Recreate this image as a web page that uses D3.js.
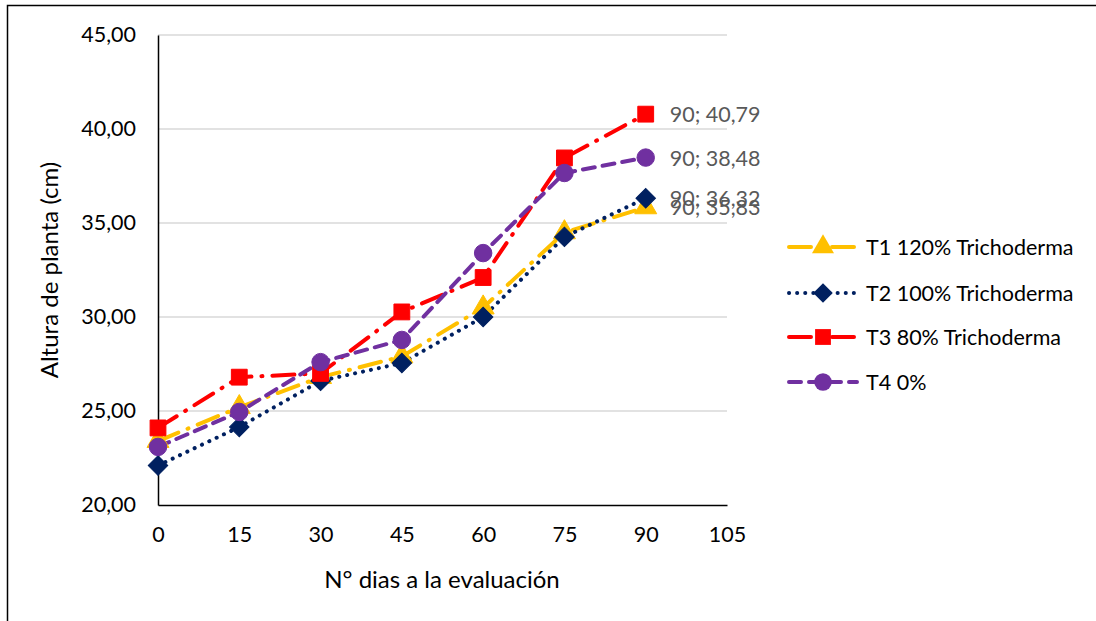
<!DOCTYPE html>
<html>
<head>
<meta charset="utf-8">
<script src="https://cdn.jsdelivr.net/npm/d3@7"></script>
<style>
  body { margin: 0; background: #fff; }
  text { font-family: Lato, "Open Sans", sans-serif; }
</style>
</head>
<body>
<div id="chart"></div>
<script>
// days of evaluation
const days = [0, 15, 30, 45, 60, 75, 90];
const xTicks = [0, 15, 30, 45, 60, 75, 90, 105];
const yTicks = [20, 25, 30, 35, 40, 45];

// plant height (cm) per treatment
const t1 = [23.40, 25.20, 26.80, 27.90, 30.50, 34.50, 35.83];
const t2 = [22.10, 24.15, 26.60, 27.55, 30.00, 34.26, 36.32];
const t3 = [24.10, 26.80, 27.00, 30.27, 32.10, 38.46, 40.79];
const t4 = [23.09, 24.95, 27.60, 28.78, 33.40, 37.66, 38.48];

const seriesNames = ['T1 120% Trichoderma', 'T2 100% Trichoderma', 'T3 80% Trichoderma', 'T4 0%'];
const seriesValues = [t1, t2, t3, t4];
const colors = ['#FFC000', '#002060', '#FF0000', '#7030A0'];
const dashes = ['22 10 1 10', '0.1 8', '22 10 1 10', '12 8'];
const symbols = [d3.symbolTriangle, d3.symbolSquare, d3.symbolSquare, d3.symbolCircle];
const symbolSizes = [210, 190, 250, 240];
const symbolRot = [0, 45, 0, 0];

const W = 1096, H = 621;
const svg = d3.select('#chart').append('svg')
  .attr('width', W).attr('height', H);

// outer frame
svg.append('rect')
  .attr('x', 7.5).attr('y', 5.5).attr('width', 1200).attr('height', 630)
  .attr('fill', 'none').attr('stroke', '#000').attr('stroke-width', 1.5);

const x = d3.scaleLinear().domain([0, 105]).range([158, 727]);
const y = d3.scaleLinear().domain([20, 45]).range([505, 35]);

const fmt = v => d3.format('.2f')(v).replace('.', ',');

// gridlines
svg.append('g')
  .selectAll('line')
  .data(yTicks.filter(d => d > 20))
  .join('line')
  .attr('x1', x(0)).attr('x2', x(105))
  .attr('y1', d => y(d)).attr('y2', d => y(d))
  .attr('stroke', '#d9d9d9').attr('stroke-width', 1.5);

// y axis
const yAxis = svg.append('g')
  .attr('transform', `translate(${x(0)},0)`)
  .call(d3.axisLeft(y).tickValues(yTicks).tickSize(0).tickPadding(22).tickFormat(fmt));
yAxis.select('.domain').attr('stroke', '#000').attr('stroke-width', 1.5);
yAxis.selectAll('text').attr('font-size', 21.5).attr('fill', '#000')
  .style('font-family', 'Lato, "Open Sans", sans-serif');

// x axis
const xAxis = svg.append('g')
  .attr('transform', `translate(0,${y(20)})`)
  .call(d3.axisBottom(x).tickValues(xTicks).tickSize(0).tickPadding(22).tickFormat(d3.format('d')));
xAxis.select('.domain').attr('stroke', '#000').attr('stroke-width', 1.5);
xAxis.selectAll('text').attr('font-size', 21.5).attr('fill', '#000')
  .style('font-family', 'Lato, "Open Sans", sans-serif');

// axis titles
svg.append('text')
  .attr('transform', 'translate(48,270) rotate(-90)')
  .attr('text-anchor', 'middle').attr('dominant-baseline', 'central')
  .attr('font-size', 24).attr('fill', '#000')
  .text('Altura de planta (cm)');

svg.append('text')
  .attr('x', 442).attr('y', 578)
  .attr('text-anchor', 'middle').attr('dominant-baseline', 'central')
  .attr('font-size', 24).attr('fill', '#000')
  .text('N° dias a la evaluación');

const line = d3.line()
  .x((d, i) => x(days[i]))
  .y(d => y(d));

// series lines
seriesValues.forEach((vals, s) => {
  svg.append('path')
    .datum(vals)
    .attr('d', line)
    .attr('fill', 'none')
    .attr('stroke', colors[s])
    .attr('stroke-width', 4)
    .attr('stroke-linecap', 'round')
    .attr('stroke-dasharray', dashes[s]);
});

// markers
seriesValues.forEach((vals, s) => {
  svg.append('g')
    .selectAll('path')
    .data(vals)
    .join('path')
    .attr('transform', (d, i) => `translate(${x(days[i])},${y(d)}) rotate(${symbolRot[s]})`)
    .attr('d', d3.symbol().type(symbols[s]).size(symbolSizes[s]))
    .attr('fill', colors[s])
    .attr('stroke', colors[s]).attr('stroke-width', 1);
});

// data labels for the last point
seriesValues.forEach((vals, s) => {
  const last = vals.length - 1;
  svg.append('text')
    .attr('x', x(days[last]) + 24)
    .attr('y', y(vals[last]))
    .attr('dominant-baseline', 'central')
    .attr('font-size', 21.5).attr('fill', '#595959')
    .text(`${days[last]}; ${fmt(vals[last])}`);
});

// legend
const legendY = [247, 293, 337, 382];
const lg = svg.append('g');
seriesNames.forEach((name, s) => {
  const g = lg.append('g').attr('transform', `translate(0,${legendY[s]})`);
  g.append('line')
    .attr('x1', 789).attr('x2', 857).attr('y1', 0).attr('y2', 0)
    .attr('stroke', colors[s]).attr('stroke-width', 4)
    .attr('stroke-linecap', 'round')
    .attr('stroke-dasharray', dashes[s]);
  g.append('path')
    .attr('transform', `translate(823,0) rotate(${symbolRot[s]})`)
    .attr('d', d3.symbol().type(symbols[s]).size(symbolSizes[s]))
    .attr('fill', colors[s]);
  g.append('text')
    .attr('x', 866).attr('y', 0)
    .attr('dominant-baseline', 'central')
    .attr('font-size', 21.5).attr('fill', '#000')
    .text(name);
});
</script>
</body>
</html>
